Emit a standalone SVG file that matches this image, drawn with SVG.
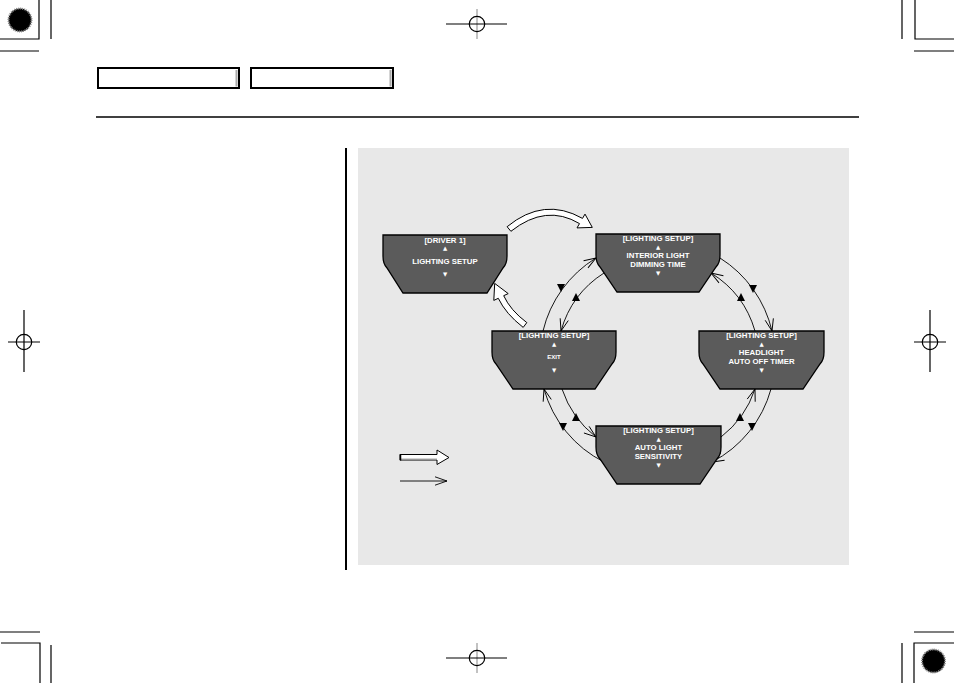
<svg xmlns="http://www.w3.org/2000/svg" width="954" height="683" viewBox="0 0 954 683">
<defs>
<style>
.k{stroke:#000;stroke-width:1.2;fill:none}
.g{stroke:#999;stroke-width:1.2;fill:none}
.node{fill:#5b5b5b;stroke:#000;stroke-width:1.3}
.t{fill:#fff;font-family:"Liberation Sans",Arial,sans-serif;font-weight:bold;font-size:7.8px;text-anchor:middle}
.s{fill:#fff;font-family:"DejaVu Sans",sans-serif;font-size:5.5px;text-anchor:middle}
.c{stroke:#000;stroke-width:0.9;fill:none;marker-end:url(#ah)}
.tri{fill:#000}
.big{fill:#fff;stroke:#000;stroke-width:1}
</style>
<marker id="ah" markerWidth="14" markerHeight="12" refX="12" refY="5" orient="auto" markerUnits="userSpaceOnUse" overflow="visible">
<path d="M0,0.8 L12,5 L0,9.2" fill="none" stroke="#000" stroke-width="0.9"/>
</marker>
</defs>
<rect width="954" height="683" fill="#fff"/>

<!-- printer marks -->
<g id="marks">
<circle cx="20" cy="20" r="11.5" fill="#000" stroke="#888" stroke-width="2" stroke-dasharray="1 1"/>
<circle cx="20" cy="20" r="7" fill="#000"/>
<path class="k" d="M39,0 V39 H0 M51,0 V39 M0,51 H39"/>
<path class="k" d="M902,0 V39 M915,0 V39 H954 M914,51 H954"/>
<path class="k" d="M0,632 H40 M1,643 H40 V683 M51,645 V683"/>
<path class="k" d="M914,632 H954 M954,643 H914 V683 M902,643 V683"/>
<circle cx="933.5" cy="661" r="11.5" fill="#000" stroke="#888" stroke-width="2" stroke-dasharray="1 1"/>
<circle cx="933.5" cy="661" r="7" fill="#000"/>
<path class="g" d="M477,9 V39"/>
<path class="k" d="M446,24 H507"/>
<circle class="k" cx="477" cy="24" r="7.7"/>
<path class="g" d="M477,643 V673"/>
<path class="k" d="M446,658 H507" stroke="#444"/>
<circle class="k" cx="477" cy="658" r="7.7"/>
<path class="k" d="M8,342 H40 M24,310 V372"/>
<circle class="k" cx="24" cy="342" r="7.7"/>
<path class="k" d="M914,342 H946 M930,310 V372"/>
<circle class="k" cx="930" cy="342" r="7.7"/>
</g>

<!-- header -->
<g id="header">
<rect x="98" y="68" width="141" height="20" fill="#fff" stroke="#000" stroke-width="2"/>
<path d="M236.5,70 V86.5" stroke="#aaa" stroke-width="2" fill="none"/>
<rect x="251" y="68" width="142" height="20" fill="#fff" stroke="#000" stroke-width="2"/>
<path d="M390.5,70 V86.5" stroke="#aaa" stroke-width="2" fill="none"/>
<path d="M96,117 H859" stroke="#000" stroke-width="1.5"/>
</g>

<path d="M346,148 V570" stroke="#000" stroke-width="2"/>
<rect x="358" y="148" width="491" height="417" fill="#e8e8e8"/>

<!-- connectors -->
<g id="connectors">
<path class="big" d="M507.1,226.7 Q544,196.5 582.5,218.4 L585,214.1 L592.3,227.4 L577,227.9 L579.5,223.6 Q546,203.5 510.9,231.3 Z"/>
<path class="big" d="M526.8,322.6 Q510.3,310.2 503.7,295.7 L508.2,293.6 L494.7,283.4 L493.8,300.4 L498.3,298.3 Q505.7,313.8 523.2,327.4 Z"/>

<path class="c" d="M543,331 A118,118 0 0 1 596,258"/>
<path class="c" d="M604,273 A101,101 0 0 0 561,331"/>
<path class="c" d="M720,258 A118,118 0 0 1 772,331"/>
<path class="c" d="M755,331 A101,101 0 0 0 711,273"/>
<path class="c" d="M721,437 A101,101 0 0 0 755,389"/>
<path class="c" d="M771,389 A117,117 0 0 1 712,462"/>
<path class="c" d="M562,389 A101,101 0 0 0 596,437"/>
<path class="c" d="M604,462 A117,117 0 0 1 544,389"/>

<polygon class="tri" points="557,284 565,284 561,292"/>
<polygon class="tri" points="572,301 580,301 576,293"/>
<polygon class="tri" points="749,285 757,285 753,293"/>
<polygon class="tri" points="737,301 745,301 741,293"/>
<polygon class="tri" points="736,421 744,421 740,413"/>
<polygon class="tri" points="748,423 756,423 752,431"/>
<polygon class="tri" points="572,421 580,421 576,413"/>
<polygon class="tri" points="559,423 567,423 563,431"/>
</g>

<!-- nodes -->
<g id="driver1">
<path class="node" d="M383,235 H507 V256 Q507,264 503,268 L487,293 H403 L387,268 Q383,264 383,256 Z"/>
<text class="t" x="445" y="243">[DRIVER 1]</text>
<text class="s" x="445" y="249.5">▲</text>
<text class="t" x="445" y="263.8">LIGHTING SETUP</text>
<text class="s" x="445" y="276">▼</text>
</g>
<g id="interior">
<path class="node" d="M596,234 H720 V255 Q720,263 716,267 L699,292 H617 L600,267 Q596,263 596,255 Z"/>
<text class="t" x="658" y="240.8">[LIGHTING SETUP]</text>
<text class="s" x="658" y="248.5">▲</text>
<text class="t" x="658" y="257.8">INTERIOR LIGHT</text>
<text class="t" x="658" y="266.8">DIMMING TIME</text>
<text class="s" x="658" y="275">▼</text>
</g>
<g id="exit">
<path class="node" d="M492,331 H616 V352 Q616,360 612,364 L595,389 H513 L496,364 Q492,360 492,352 Z"/>
<text class="t" x="554" y="337.8">[LIGHTING SETUP]</text>
<text class="s" x="554" y="345.5">▲</text>
<text class="t" x="554" y="359.2" style="font-size:6px">EXIT</text>
<text class="s" x="554" y="372">▼</text>
</g>
<g id="headlight">
<path class="node" d="M699,331 H824 V352 Q824,360 820,364 L803,389 H720 L703,364 Q699,360 699,352 Z"/>
<text class="t" x="761.5" y="337.8">[LIGHTING SETUP]</text>
<text class="s" x="761.5" y="345.5">▲</text>
<text class="t" x="761.5" y="354.8">HEADLIGHT</text>
<text class="t" x="761.5" y="363.8">AUTO OFF TIMER</text>
<text class="s" x="761.5" y="372">▼</text>
</g>
<g id="autolight">
<path class="node" d="M596,426 H721 V447 Q721,455 717,459 L700,484 H617 L600,459 Q596,455 596,447 Z"/>
<text class="t" x="658.5" y="432.8">[LIGHTING SETUP]</text>
<text class="s" x="658.5" y="440.5">▲</text>
<text class="t" x="658.5" y="449.8">AUTO LIGHT</text>
<text class="t" x="658.5" y="458.8">SENSITIVITY</text>
<text class="s" x="658.5" y="467">▼</text>
</g>

<!-- legend -->
<g id="legend">
<path class="big" d="M400,454.5 H437 V450 L449,457.5 L437,464.5 V460 H400 Z"/>
<path d="M401,459 H437" stroke="#aaa" stroke-width="1.2"/>
<path d="M400.5,454 V460.5" stroke="#000" stroke-width="1.5"/>
<path class="c" d="M400,481 H447"/>
</g>
</svg>
